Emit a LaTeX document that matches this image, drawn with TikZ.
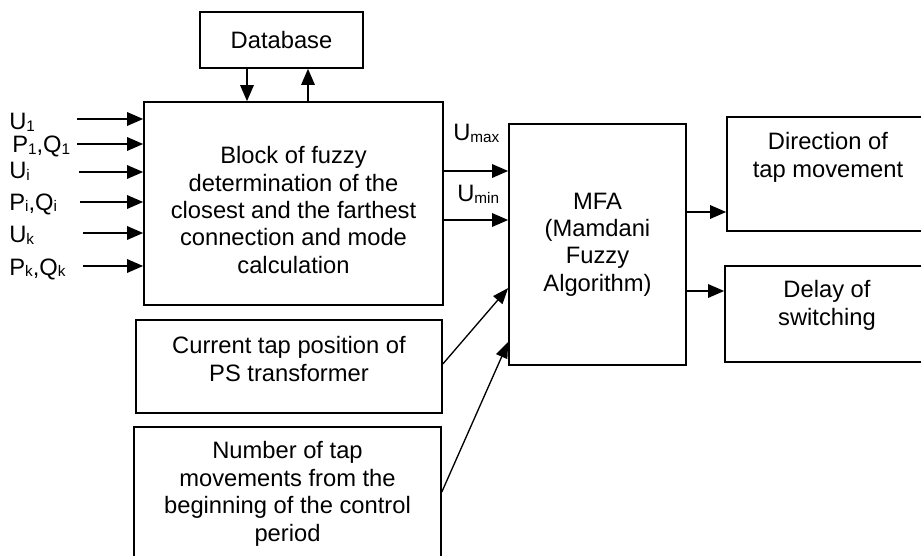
\documentclass[tikz,border=0pt]{standalone}
\usepackage{fontspec}
\setmainfont{Liberation Sans}
\usetikzlibrary{arrows.meta}
% smaller index letters sitting on the baseline
\newcommand\lsub[1]{\raisebox{-0.8pt}{\fontsize{11.5pt}{12pt}\selectfont #1}}
\begin{document}
\begin{tikzpicture}[x=0.75pt,y=-0.75pt,
  every node/.style={font=\fontsize{17.8pt}{20.6pt}\selectfont, inner sep=0pt},
  box/.style={draw, line width=1.2pt, rectangle},
  txt/.style={align=center},
  lab/.style={anchor=base west},
  arr/.style={line width=1.4pt, -{Triangle[length=12pt,width=10pt]}},
  diag/.style={line width=1pt, -{Triangle[length=12pt,width=9pt]}}]
\useasboundingbox (0,0) rectangle (921,556);

% blocks
\node[box, minimum width=122.25pt, minimum height=42pt] (db) at (281.5,40) {Database};
\node[box, minimum width=224.25pt, minimum height=152.25pt] (blk) at (293.5,203.5) {};
\node[txt] (blkt) at (293.5,210) {Block of fuzzy\\determination of the\\closest and the farthest\\connection and mode\\calculation};
\node[box, minimum width=132.75pt, minimum height=180.75pt, txt] (mfa) at (597.5,244.5) {MFA\\(Mamdani\\Fuzzy\\Algorithm)};
\node[box, minimum width=151.5pt, minimum height=85.5pt] (dir) at (828,174) {};
\node[txt] (dirt) at (828,157.5) {Direction of\\tap movement};
\node[box, minimum width=153pt, minimum height=72pt] (del) at (827,314) {};
\node[txt] (delt) at (827,305.5) {Delay of\\switching};
\node[box, minimum width=229.5pt, minimum height=69.75pt] (cur) at (289,366.5) {};
\node[txt] (curt) at (289,359) {Current tap position of\\PS transformer};
\node[box, minimum width=230.25pt, minimum height=111pt] (num) at (287.5,501) {};
\node[txt] (numt) at (287.5,494) {Number of tap\\movements from the\\beginning of the control\\period};

% database exchange
\draw[arr] (db.south -| 247,0) -- (blk.north -| 247,0);
\draw[arr] (blk.north -| 308,0) -- (db.south -| 308,0);

% measured inputs
\node[lab] (l1) at (9,130) {U\lsub{1}};
\node[lab] (l2) at (12,153) {P\lsub{1},Q\lsub{1}};
\node[lab] (l3) at (9,179) {U\lsub{i}};
\node[lab] (l4) at (9,210) {P\lsub{i},Q\lsub{i}};
\node[lab] (l5) at (9,243) {U\lsub{k}};
\node[lab] (l6) at (9,275) {P\lsub{k},Q\lsub{k}};
\coordinate (s1) at (77,119);
\coordinate (s2) at (77,144);
\coordinate (s3) at (79,172);
\coordinate (s4) at (80,202);
\coordinate (s5) at (83,233);
\coordinate (s6) at (83,266);
\foreach \i in {1,...,6} \draw[arr] (s\i) -- (blk.west |- s\i);

% voltage extremes to MFA
\draw[arr] (blk.east |- 0,171) -- (mfa.west |- 0,171);
\draw[arr] (blk.east |- 0,220) -- (mfa.west |- 0,220);
\node[lab] (umax) at (453,141) {U\lsub{max}};
\node[lab] (umin) at (457,202) {U\lsub{min}};

% tap state inputs
\draw[diag] (cur.east |- 0,364) -- (mfa.west |- 0,288);
\draw[diag] (num.east |- 0,492) -- (mfa.west |- 0,342);

% outputs
\draw[arr] (mfa.east |- 0,212) -- (dir.west |- 0,212);
\draw[arr] (mfa.east |- 0,291) -- (del.west |- 0,291);
\end{tikzpicture}
\end{document}
